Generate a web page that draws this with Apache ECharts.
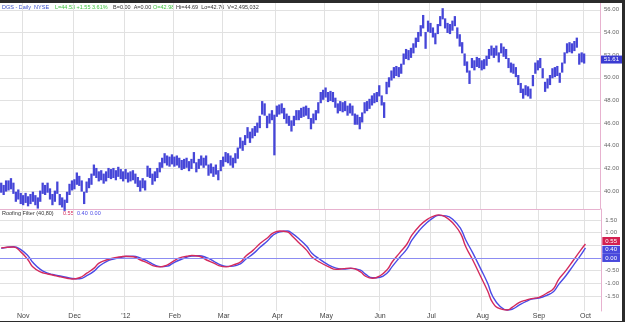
<!DOCTYPE html>
<html>
<head>
<meta charset="utf-8">
<script src="https://cdn.jsdelivr.net/npm/echarts@6/dist/echarts.min.js"></script>
<style>
  html, body { margin: 0; padding: 0; width: 625px; height: 322px; overflow: hidden; background: #2b2b2b; }
  #chart { position: absolute; left: 0; top: 3px; width: 622px; height: 318px; background: #fff; }
</style>
</head>
<body>
<div id="chart"></div>
<script>
// trading calendar: first day, last (empty) day, exchange holidays
const firstDay = '2011-10-19';
const lastDay = '2012-10-09';
const holidays = ['2011-11-24', '2011-12-26', '2012-01-02', '2012-01-16', '2012-02-20',
  '2012-04-06', '2012-05-28', '2012-07-04', '2012-09-03'];
const monthLabels = ["'12", 'Feb', 'Mar', 'Apr', 'May', 'Jun', 'Jul', 'Aug', 'Sep', 'Oct', 'Nov', 'Dec'];

// daily price bars (low / high), one per trading day from 2011-10-19
const lows = [
  39.9, 39.7, 40.0, 40.1, 40.2, 39.8, 39.1, 39.3, 38.9, 38.8,
  39.0, 38.7, 38.9, 39.1, 38.8, 38.5, 39.1, 39.8, 39.7, 39.9,
  39.3, 38.8, 39.1, 39.8, 38.8, 38.6, 38.3, 39.0, 39.7, 40.1,
  40.2, 40.6, 40.5, 40.0, 38.9, 39.9, 40.3, 40.6, 41.4, 41.2,
  40.9, 41.0, 40.7, 40.9, 41.2, 41.1, 41.2, 41.0, 41.3, 41.1,
  40.9, 41.1, 40.8, 40.9, 41.0, 40.7, 40.4, 40.0, 40.3, 40.1,
  41.3, 41.2, 40.6, 40.9, 41.2, 41.7, 42.1, 42.5, 42.3, 42.2,
  42.4, 42.2, 42.3, 42.1, 41.9, 42.0, 42.1, 41.8, 42.0, 42.5,
  41.7, 42.0, 42.3, 42.1, 42.3, 41.4, 41.6, 41.3, 41.5, 41.0,
  41.8, 42.2, 42.6, 42.5, 42.3, 42.1, 42.5, 42.9, 43.8, 43.6,
  44.1, 44.7, 44.3, 44.7, 44.9, 45.2, 45.6, 46.8, 46.7, 45.6,
  46.0, 46.3, 43.2, 46.6, 46.8, 46.9, 46.4, 46.0, 45.8, 45.3,
  45.8, 46.3, 46.3, 46.5, 46.6, 46.7, 46.4, 45.5, 46.0, 46.3,
  46.9, 47.8, 48.1, 48.3, 47.9, 48.0, 47.9, 47.4, 46.9, 47.1,
  47.0, 47.1, 46.7, 46.9, 46.7, 45.9, 45.9, 45.5, 46.1, 46.9,
  47.1, 47.3, 47.6, 47.8, 47.9, 48.4, 47.6, 46.5, 48.6, 49.2,
  49.8, 50.0, 50.2, 50.1, 50.4, 51.2, 51.7, 51.6, 51.8, 52.2,
  52.7, 53.2, 53.7, 54.4, 52.6, 54.1, 54.0, 53.6, 53.0, 53.9,
  54.6, 55.2, 54.4, 54.0, 53.9, 54.2, 54.6, 53.5, 52.8, 52.2,
  51.1, 50.5, 49.5, 50.9, 50.7, 51.0, 50.9, 50.7, 50.8, 51.1,
  51.7, 52.0, 51.8, 52.0, 51.4, 52.2, 51.9, 51.7, 50.9, 50.5,
  50.4, 50.1, 49.4, 48.7, 48.2, 48.5, 48.4, 48.2, 49.3, 50.4,
  50.7, 50.9, 50.0, 48.8, 49.1, 49.4, 50.0, 50.1, 50.2, 49.6,
  50.5, 51.3, 52.2, 52.3, 52.2, 52.4, 52.7, 51.2, 51.4, 51.3
];
const highs = [
  40.7, 40.5, 40.9, 40.9, 41.1, 40.7, 39.9, 40.1, 39.8, 39.6,
  39.8, 39.5, 39.7, 39.9, 39.6, 39.4, 40.0, 40.7, 40.5, 40.7,
  40.2, 39.7, 40.0, 40.8, 39.7, 39.4, 39.2, 39.9, 40.6, 40.9,
  41.0, 41.6, 41.3, 40.9, 39.9, 40.8, 41.1, 41.5, 42.3, 42.0,
  41.7, 41.8, 41.5, 41.7, 42.0, 41.9, 42.0, 41.8, 42.1, 41.9,
  41.7, 41.9, 41.6, 41.7, 41.8, 41.5, 41.2, 40.9, 41.1, 40.9,
  42.2, 42.0, 41.5, 41.7, 42.0, 42.5, 42.9, 43.3, 43.1, 43.0,
  43.2, 43.0, 43.1, 42.9, 42.7, 42.8, 42.9, 42.6, 42.8, 43.4,
  42.5, 42.8, 43.1, 42.9, 43.1, 42.3, 42.4, 42.1, 42.3, 41.8,
  42.7, 43.0, 43.4, 43.3, 43.1, 42.9, 43.3, 43.8, 44.7, 44.4,
  44.9, 45.6, 45.2, 45.5, 45.7, 46.0, 46.6, 47.9, 47.7, 46.6,
  46.8, 47.1, 46.7, 47.5, 47.6, 47.7, 47.3, 46.8, 46.6, 46.2,
  46.6, 47.1, 47.1, 47.3, 47.4, 47.5, 47.3, 46.4, 46.8, 47.1,
  47.8, 48.7, 48.9, 49.1, 48.7, 48.8, 48.7, 48.2, 47.7, 47.9,
  47.8, 47.9, 47.5, 47.7, 47.5, 46.8, 46.7, 46.5, 46.9, 47.8,
  47.9, 48.1, 48.4, 48.6, 48.7, 49.3, 48.4, 47.8, 49.6, 50.0,
  50.6, 50.9, 51.0, 50.9, 51.2, 52.1, 52.5, 52.4, 52.6, 53.0,
  53.5, 54.0, 54.6, 55.5, 54.0, 55.0, 54.8, 54.4, 53.9, 54.7,
  55.4, 56.1, 55.2, 54.8, 54.7, 55.0, 55.4, 54.4, 53.8, 53.1,
  52.1, 51.4, 50.6, 51.7, 51.5, 51.8, 51.7, 51.5, 51.6, 51.9,
  52.5, 52.8, 52.6, 52.8, 52.2, 53.0, 52.7, 52.5, 51.7, 51.3,
  51.2, 50.9, 50.2, 49.5, 49.0, 49.3, 49.2, 49.0, 50.2, 51.3,
  51.5, 51.7, 50.8, 49.6, 49.9, 50.2, 50.8, 50.9, 51.0, 50.4,
  51.3, 52.2, 53.0, 53.1, 53.0, 53.2, 53.5, 52.1, 52.2, 52.1
];
const lastPrice = 51.61;
const priceTicks = [40, 42, 44, 46, 48, 50, 52, 54, 56];

// Roofing Filter (40,80): trading-day index, filter (red) and trigger (blue)
const filterIdx = [0, 5, 8, 11, 13, 16, 19, 21, 24, 27, 29, 32, 35, 38, 40, 43, 46, 49, 51, 54,
  57, 60, 62, 65, 68, 70, 73, 76, 78, 81, 84, 87, 89, 92, 95, 98, 100, 103, 106, 109,
  111, 114, 117, 119, 122, 125, 127, 130, 134, 137, 140, 143, 147, 149, 152, 155, 158, 160, 163, 166,
  168, 171, 174, 177, 179, 182, 185, 188, 190, 193, 196, 199, 201, 204, 207, 209, 212, 215, 217, 220,
  223, 226, 228, 231, 234, 237, 239];
const filterRed = [0.40, 0.43, 0.24, -0.08, -0.36, -0.55, -0.63, -0.67, -0.74, -0.80, -0.83, -0.78, -0.60, -0.40, -0.20, -0.08, 0.00, 0.05, 0.07, 0.05,
  -0.08, -0.20, -0.30, -0.35, -0.27, -0.15, 0.00, 0.07, 0.10, 0.07, -0.08, -0.20, -0.30, -0.35, -0.27, -0.15, 0.07, 0.30, 0.58, 0.80,
  0.97, 1.06, 1.03, 0.87, 0.58, 0.30, 0.05, -0.15, -0.35, -0.45, -0.42, -0.40, -0.55, -0.72, -0.80, -0.70, -0.45, -0.15, 0.20, 0.55,
  0.90, 1.25, 1.50, 1.65, 1.70, 1.60, 1.35, 0.95, 0.45, -0.10, -0.70, -1.30, -1.75, -2.00, -2.05, -1.95, -1.75, -1.65, -1.60, -1.55,
  -1.40, -1.20, -0.85, -0.50, -0.10, 0.30, 0.55];
const filterBlue = [0.38, 0.44, 0.33, 0.08, -0.18, -0.45, -0.60, -0.65, -0.71, -0.77, -0.81, -0.82, -0.70, -0.52, -0.33, -0.14, -0.04, 0.03, 0.06, 0.07,
  -0.01, -0.13, -0.24, -0.34, -0.32, -0.22, -0.08, 0.03, 0.08, 0.09, 0.01, -0.13, -0.24, -0.33, -0.32, -0.22, -0.05, 0.16, 0.43, 0.68,
  0.88, 1.03, 1.06, 0.97, 0.74, 0.46, 0.20, -0.03, -0.28, -0.40, -0.44, -0.41, -0.48, -0.64, -0.78, -0.76, -0.58, -0.33, 0.02, 0.36,
  0.70, 1.08, 1.38, 1.60, 1.68, 1.66, 1.50, 1.15, 0.72, 0.18, -0.40, -1.00, -1.50, -1.90, -2.05, -2.02, -1.85, -1.70, -1.62, -1.58,
  -1.48, -1.32, -1.05, -0.70, -0.30, 0.10, 0.40];
const filterTicks = [-1.5, -1, -0.5, 0, 0.5, 1, 1.5];
const filterLabelTicks = [-1.5, -1, -0.5, 1, 1.5];

const barBlue = '#4646d8';
const lineRed = '#d42a5c';
const lineBlue = '#4a4ae6';
const pink = '#e7b2cf';
const grid = '#e1e1e1';
const clear = 'rgba(0,0,0,0)';
const font = 'Arial, "Liberation Sans", sans-serif';

// build trading days
const days = [];
for (let d = new Date(firstDay + 'T00:00:00Z'); d <= new Date(lastDay + 'T00:00:00Z'); d.setUTCDate(d.getUTCDate() + 1)) {
  const s = d.toISOString().slice(0, 10);
  const wd = d.getUTCDay();
  if (wd === 0 || wd === 6 || holidays.includes(s)) continue;
  days.push(s);
}
const isMonthStart = (i) => i > 0 && days[i].slice(5, 7) !== days[i - 1].slice(5, 7);
const monthName = (s) => monthLabels[+s.slice(5, 7) - 1];

const chart = echarts.init(document.getElementById('chart'));

// value box on the right axis, like the platform's last-value tags
const boxLabel = (text, bg, dy = 0) => ({
  show: true, position: 'end', distance: 1, formatter: text, offset: [0, dy],
  backgroundColor: bg, color: '#fff', fontSize: 6, fontFamily: font, padding: [1, 3]
});
const txt = (left, top, text, fill) => ({ type: 'text', left, top, style: { text, fill, font: '5.5px ' + font } });

chart.setOption({
  animation: false,
  textStyle: { fontFamily: font },
  grid: [
    { left: 0, right: 20, top: 0, height: 206 },
    { left: 0, right: 20, top: 206, height: 102 }
  ],
  xAxis: [
    {
      type: 'category', gridIndex: 0, data: days,
      axisLine: { lineStyle: { color: pink, width: 1 } },
      axisTick: { show: false }, axisLabel: { show: false },
      splitLine: { show: true, interval: (i) => isMonthStart(i), lineStyle: { color: grid } }
    },
    {
      type: 'category', gridIndex: 1, data: days,
      axisLine: { lineStyle: { color: pink, type: [3, 2], width: 1 } },
      axisTick: { show: false },
      axisLabel: {
        interval: (i) => isMonthStart(i), formatter: (v) => monthName(v),
        fontSize: 7, color: '#444', margin: 2
      },
      splitLine: { show: true, interval: (i) => isMonthStart(i), lineStyle: { color: grid } }
    }
  ],
  yAxis: [
    {
      type: 'value', gridIndex: 0, position: 'right', min: 38.42, max: 56.6,
      axisLine: { show: true, lineStyle: { color: pink } },
      axisTick: { show: false, customValues: priceTicks },
      axisLabel: { customValues: priceTicks, formatter: (v) => v.toFixed(2), fontSize: 6, color: '#666', margin: 4 },
      splitLine: { lineStyle: { color: grid } }
    },
    {
      type: 'value', gridIndex: 1, position: 'right', min: -2.09, max: 1.93,
      axisLine: { show: true, lineStyle: { color: pink } },
      axisTick: { show: false, customValues: filterTicks },
      axisLabel: { customValues: filterLabelTicks, formatter: (v) => v.toFixed(2), fontSize: 6, color: '#666', margin: 4 },
      splitLine: { lineStyle: { color: grid } }
    }
  ],
  series: [
    {
      type: 'custom', xAxisIndex: 0, yAxisIndex: 0,
      data: highs.map((h, i) => [i, lows[i], h]),
      encode: { x: 0, y: [1, 2] },
      renderItem: (params, api) => {
        const x = api.value(0);
        const a = api.coord([x, api.value(1)]);
        const b = api.coord([x, api.value(2)]);
        return {
          type: 'line',
          shape: { x1: a[0], y1: a[1] + 0.5, x2: b[0], y2: b[1] - 0.5 },
          style: { stroke: barBlue, lineWidth: 2.3 }
        };
      },
      markLine: {
        silent: true, symbol: 'none', lineStyle: { color: clear, width: 0 },
        label: boxLabel(lastPrice.toFixed(2), '#3b3bd2'),
        data: [{ yAxis: lastPrice }]
      },
      z: 3
    },
    {
      name: 'trigger', type: 'line', xAxisIndex: 1, yAxisIndex: 1,
      data: filterIdx.map((d, i) => [d, filterBlue[i]]),
      smooth: 0.5, symbol: 'none', lineStyle: { color: lineBlue, width: 1.4 },
      markLine: {
        silent: true, symbol: 'none',
        data: [
          { yAxis: 0, lineStyle: { color: '#8c8cf2', width: 1, type: 'solid' }, label: boxLabel('0.00', '#4848dc') },
          { yAxis: filterBlue[filterBlue.length - 1], lineStyle: { color: clear, width: 0 }, label: boxLabel('0.40', '#4848dc', 2) }
        ]
      }
    },
    {
      name: 'filter', type: 'line', xAxisIndex: 1, yAxisIndex: 1,
      data: filterIdx.map((d, i) => [d, filterRed[i]]),
      smooth: 0.5, symbol: 'none', lineStyle: { color: lineRed, width: 1.4 },
      markLine: {
        silent: true, symbol: 'none', lineStyle: { color: clear, width: 0 },
        label: boxLabel('0.55', '#d42050', -3),
        data: [{ yAxis: filterRed[filterRed.length - 1] }]
      }
    }
  ],
  graphic: [
    txt(2, 1, 'DGS - Daily  NYSE', '#3a4fc8'),
    txt(55, 1, 'L=44.53 +1.55 3.61%', '#3fc43f'),
    txt(113, 1, 'B=0.00  A=0.00', '#333'),
    txt(153, 1, 'O=42.98', '#3fc43f'),
    txt(176, 1, 'Hi=44.69  Lo=42.76  V=2,495,032', '#333'),
    txt(2, 207, 'Roofing Filter (40,80)', '#333'),
    txt(63, 207, '0.55', lineRed),
    txt(77, 207, '0.40', lineBlue),
    txt(90, 207, '0.00', lineBlue)
  ]
});
</script>
</body>
</html>
